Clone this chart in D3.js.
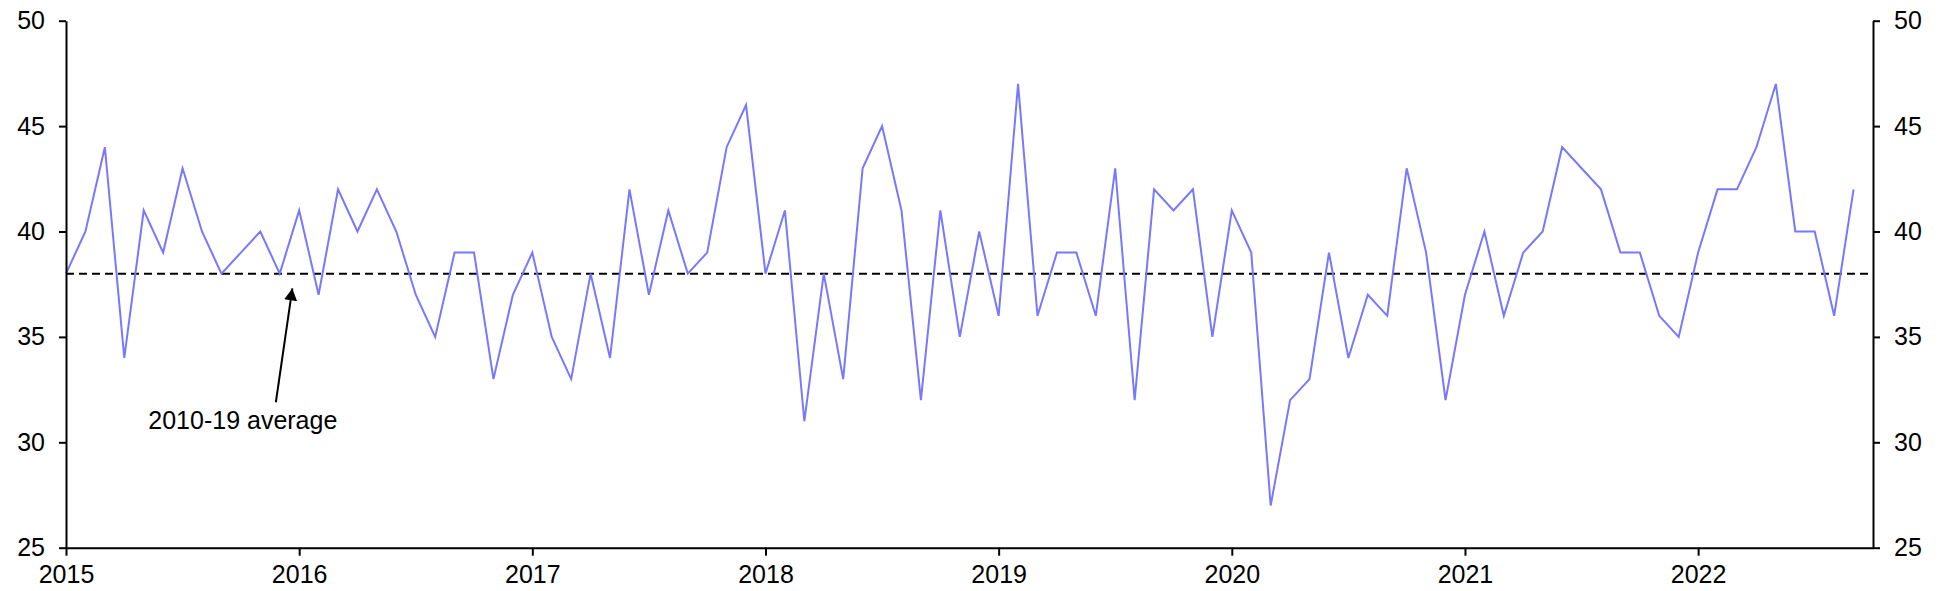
<!DOCTYPE html>
<html>
<head>
<meta charset="utf-8">
<script src="https://cdn.jsdelivr.net/npm/d3@7"></script>
<style>
  body { margin: 0; background: #fff; }
  svg { display: block; font-family: "Liberation Sans", Arial, sans-serif; }
  .axis path, .axis line { stroke: #000; stroke-width: 2; }
  .axis text { font-size: 25px; fill: #000; }
</style>
</head>
<body>
<div id="chart"></div>
<script>
// monthly readings, Jan 2015 .. Sep 2022
var values = [
    38, 40, 44, 34, 41, 39, 43, 40, 38, 39, 40, 38,   // 2015
    41, 37, 42, 40, 42, 40, 37, 35, 39, 39, 33, 37,   // 2016
    39, 35, 33, 38, 34, 42, 37, 41, 38, 39, 44, 46,   // 2017
    38, 41, 31, 38, 33, 43, 45, 41, 32, 41, 35, 40,   // 2018
    36, 47, 36, 39, 39, 36, 43, 32, 42, 41, 42, 35,   // 2019
    41, 39, 27, 32, 33, 39, 34, 37, 36, 43, 39, 32,   // 2020
    37, 40, 36, 39, 40, 44, 43, 42, 39, 39, 36, 35,   // 2021
    39, 42, 42, 44, 47, 40, 40, 36, 42                // 2022
];
var yearLabels = ["2015", "2016", "2017", "2018", "2019", "2020", "2021", "2022"];
var yTicks = [25, 30, 35, 40, 45, 50];
var average = 38;   // 2010-19 average
var avgLabel = "2010-19 average";
// annotation: [month index, value]
var labelAt = [9.1, 30.62];
var arrowFrom = [10.8, 31.9];
var arrowTo = [11.65, 37.3];

var width = 1948, height = 591;
var margin = {top: 20.7, right: 75, bottom: 43.3, left: 66};
var w = width - margin.left - margin.right,
    h = height - margin.top - margin.bottom;

var data = values.map(function(v, i) { return {m: i, v: v}; });

var x = d3.scaleLinear().domain([0, 93]).range([0, w]);
var y = d3.scaleLinear().domain([25, 50]).range([h, 0]);

var svg = d3.select("#chart").append("svg")
    .attr("width", width)
    .attr("height", height);

svg.append("defs").append("marker")
    .attr("id", "head")
    .attr("viewBox", "0 0 12 13")
    .attr("refX", 12)
    .attr("refY", 6.5)
    .attr("markerWidth", 12)
    .attr("markerHeight", 13)
    .attr("markerUnits", "userSpaceOnUse")
    .attr("orient", "auto")
    .append("path")
    .attr("d", "M0,0 L12,6.5 L0,13 Z")
    .attr("fill", "#000");

var chart = svg.append("g")
    .attr("transform", "translate(" + margin.left + "," + margin.top + ")");

// average line
chart.append("line")
    .attr("x1", x(0)).attr("x2", x(93))
    .attr("y1", y(average)).attr("y2", y(average))
    .attr("stroke", "#000")
    .attr("stroke-width", 2)
    .attr("stroke-dasharray", "8,5");

// series
var line = d3.line()
    .x(function(d) { return x(d.m); })
    .y(function(d) { return y(d.v); });

chart.append("path")
    .datum(data)
    .attr("fill", "none")
    .attr("stroke", "#7878ff")
    .attr("stroke-width", 2)
    .attr("stroke-linejoin", "miter")
    .attr("d", line);

// axes
chart.append("g")
    .attr("class", "x axis")
    .attr("transform", "translate(0," + h + ")")
    .call(d3.axisBottom(x)
        .tickValues(yearLabels.map(function(d, i) { return i * 12; }))
        .tickFormat(function(d) { return yearLabels[d / 12]; })
        .tickSizeInner(8).tickSizeOuter(0).tickPadding(10));

chart.append("g")
    .attr("class", "y axis")
    .call(d3.axisLeft(y).tickValues(yTicks)
        .tickSizeInner(7).tickSizeOuter(0).tickPadding(14));

chart.append("g")
    .attr("class", "y axis")
    .attr("transform", "translate(" + w + ",0)")
    .call(d3.axisRight(y).tickValues(yTicks)
        .tickSizeInner(7).tickSizeOuter(0).tickPadding(14));

// annotation
chart.append("line")
    .attr("x1", x(arrowFrom[0])).attr("y1", y(arrowFrom[1]))
    .attr("x2", x(arrowTo[0])).attr("y2", y(arrowTo[1]))
    .attr("stroke", "#000")
    .attr("stroke-width", 2)
    .attr("marker-end", "url(#head)");

chart.append("text")
    .attr("x", x(labelAt[0]))
    .attr("y", y(labelAt[1]))
    .attr("text-anchor", "middle")
    .style("font-size", "25px")
    .text(avgLabel);
</script>
</body>
</html>
